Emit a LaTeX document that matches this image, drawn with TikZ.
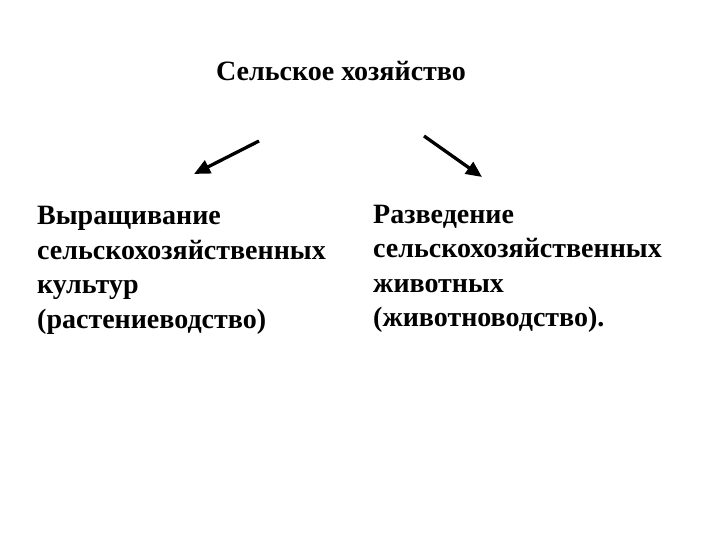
\documentclass[tikz,border=0pt]{standalone}
\usepackage{fontspec}
\setmainfont{Liberation Serif}
\usetikzlibrary{arrows.meta}
\begin{document}
\begin{tikzpicture}[x=1pt,y=-1pt,
  txt/.style={font=\fontsize{28}{34.5}\selectfont\bfseries, inner sep=0pt, align=left},
  arr/.style={line width=3.3pt, -{Triangle[length=16pt,width=14pt]}}]
\useasboundingbox (0,0) rectangle (720,540);
\node[txt, anchor=base] (title) at (341,81) {Сельское хозяйство};
\node[txt, anchor=north west] (left) at (37,206) {Выращивание\\сельскохозяйственных\\культур\\(растениеводство)};
\node[txt, anchor=north west] (right) at (373,204.5) {Разведение\\сельскохозяйственных\\животных\\(животноводство).};
\coordinate (la) at (259,141);
\coordinate (lb) at (194,174);
\coordinate (ra) at (424,136);
\coordinate (rb) at (482,177);
\draw[arr] (la) -- (lb);
\draw[arr] (ra) -- (rb);
\end{tikzpicture}
\end{document}
